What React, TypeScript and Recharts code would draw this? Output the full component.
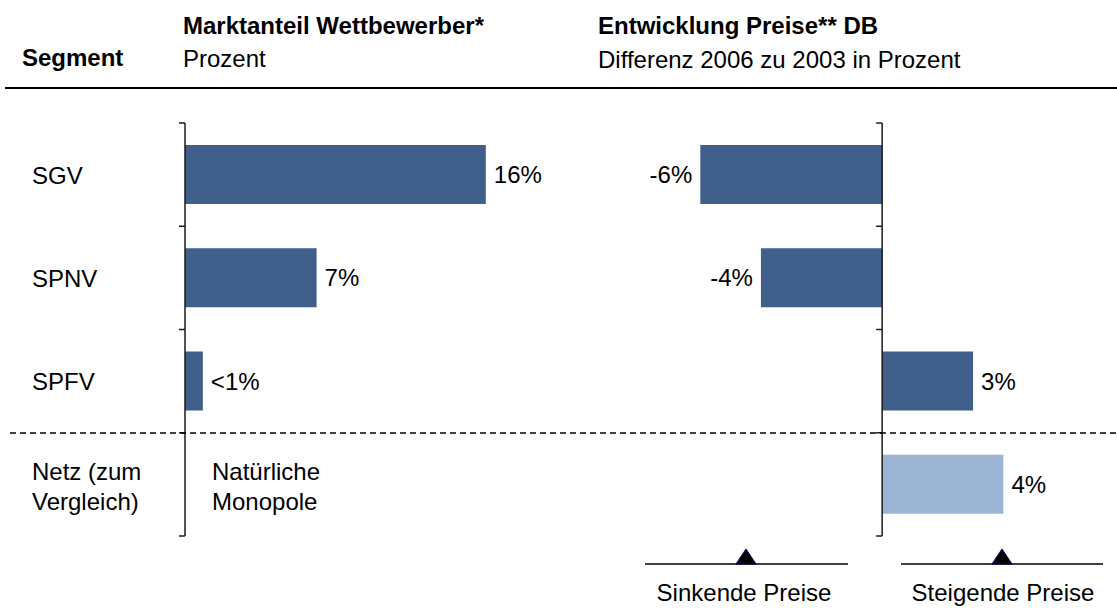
import React from "react";
import { BarChart, Bar, XAxis, YAxis, Cell, LabelList, ReferenceLine } from "recharts";

const segments = ["SGV", "SPNV", "SPFV", "Netz (zum\nVergleich)"];
const segmentNotes = ["", "", "", "Natürliche\nMonopole"];
const shareValues: (number | null)[] = [16, 7, 0.95, null];
const shareLabels = ["16%", "7%", "<1%", ""];
const priceValues = [-6, -4, 3, 4];
const priceLabels = ["-6%", "-4%", "3%", "4%"];
const priceIsComparison = [false, false, false, true];

const FONT = '"Liberation Sans", Arial, Helvetica, sans-serif';
const DARK = "#40608B";
const LIGHT = "#9BB4D4";

const shareData = segments.map((segment, i) => ({
  segment,
  share: shareValues[i],
  shareLabel: shareLabels[i],
}));
const priceData = segments.map((segment, i) => ({
  segment,
  price: priceValues[i],
  priceLabel: priceLabels[i],
}));

const CHART_H = 608;
const MARGIN_TOP = 123;
const MARGIN_BOTTOM = 72;

function AxisWithTicks(props: any) {
  const { x1, y1, y2 } = props;
  const top = Math.min(y1, y2);
  const bottom = Math.max(y1, y2);
  const band = (bottom - top) / segments.length;
  return (
    <g>
      <line x1={x1} x2={x1} y1={top} y2={bottom} stroke="#1a1a1a" strokeWidth={1.5} />
      {Array.from({ length: segments.length + 1 }, (_, i) => (
        <line
          key={i}
          x1={x1 - 6}
          x2={x1}
          y1={top + i * band}
          y2={top + i * band}
          stroke="#1a1a1a"
          strokeWidth={1.5}
        />
      ))}
    </g>
  );
}

function SegmentTick(props: any) {
  const { y, payload } = props;
  const idx = segments.indexOf(payload.value);
  const lines = String(payload.value).split("\n");
  const note = idx >= 0 ? segmentNotes[idx] : "";
  const noteLines = note ? note.split("\n") : [];
  const firstOffset = lines.length > 1 ? -4.5 : 9;
  return (
    <g>
      <text x={32} y={y + firstOffset} fontSize={24} fontFamily={FONT} fill="#000">
        {lines.map((l, i) => (
          <tspan key={i} x={32} dy={i === 0 ? 0 : 30}>
            {l}
          </tspan>
        ))}
      </text>
      {noteLines.length > 0 && (
        <text x={212} y={y + (noteLines.length > 1 ? -4.5 : 9)} fontSize={24} fontFamily={FONT} fill="#000">
          {noteLines.map((l, i) => (
            <tspan key={i} x={212} dy={i === 0 ? 0 : 30}>
              {l}
            </tspan>
          ))}
        </text>
      )}
    </g>
  );
}

export default function App() {
  return (
    <div
      style={{
        position: "absolute",
        left: 0,
        top: 0,
        width: 1117,
        height: 608,
        background: "#fff",
        fontFamily: FONT,
        overflow: "hidden",
      }}
    >
      <div style={{ position: "absolute", left: 0, top: 0 }}>
        <BarChart
          width={580}
          height={CHART_H}
          data={shareData}
          layout="vertical"
          margin={{ top: MARGIN_TOP, bottom: MARGIN_BOTTOM, left: 0, right: 19 }}
        >
          <XAxis type="number" domain={[0, 20]} hide />
          <YAxis
            type="category"
            dataKey="segment"
            width={185}
            axisLine={false}
            tickLine={false}
            interval={0}
            tick={(p: any) => <SegmentTick {...p} />}
          />
          <Bar dataKey="share" fill={DARK} barSize={59} isAnimationActive={false}>
            {shareData.map((_, i) => (
              <Cell key={i} fill={DARK} />
            ))}
            <LabelList
              dataKey="shareLabel"
              position="right"
              offset={8}
              fill="#000"
              fontSize={24}
              fontFamily={FONT}
            />
          </Bar>
          <ReferenceLine x={0} shape={(p: any) => <AxisWithTicks {...p} />} />
        </BarChart>
      </div>

      <div style={{ position: "absolute", left: 580, top: 0 }}>
        <BarChart
          width={537}
          height={CHART_H}
          data={priceData}
          layout="vertical"
          margin={{ top: MARGIN_TOP, bottom: MARGIN_BOTTOM, left: 90, right: 53 }}
        >
          <XAxis type="number" domain={[-7, 6]} hide />
          <YAxis type="category" dataKey="segment" hide />
          <Bar dataKey="price" barSize={59} isAnimationActive={false}>
            {priceData.map((_, i) => (
              <Cell key={i} fill={priceIsComparison[i] ? LIGHT : DARK} />
            ))}
            <LabelList
              dataKey="priceLabel"
              position="right"
              offset={8}
              fill="#000"
              fontSize={24}
              fontFamily={FONT}
            />
          </Bar>
          <ReferenceLine x={0} shape={(p: any) => <AxisWithTicks {...p} />} />
        </BarChart>
      </div>

      <svg
        width={1117}
        height={608}
        style={{ position: "absolute", left: 0, top: 0, pointerEvents: "none" }}
      >
        <g fontFamily={FONT} fontSize={24} fill="#000">
          <text x={22} y={66} fontWeight="bold">Segment</text>
          <text x={183} y={34} fontWeight="bold">Marktanteil Wettbewerber*</text>
          <text x={183} y={67}>Prozent</text>
          <text x={598} y={34} fontWeight="bold">Entwicklung Preise** DB</text>
          <text x={598} y={68}>Differenz 2006 zu 2003 in Prozent</text>
        </g>
        <line x1={5} x2={1117} y1={88} y2={88} stroke="#000" strokeWidth={2} />
        <line x1={10} x2={1117} y1={433} y2={433} stroke="#000" strokeWidth={1.5} strokeDasharray="6 4" />

        <line x1={645} x2={848} y1={564} y2={564} stroke="#000" strokeWidth={1.5} />
        <polygon points="736,564 756,564 746,549" fill="#000" stroke="#000060" strokeWidth={1} />
        <line x1={901} x2={1103} y1={564} y2={564} stroke="#000" strokeWidth={1.5} />
        <polygon points="992,564 1012,564 1002,549" fill="#000" stroke="#000060" strokeWidth={1} />
        <g fontFamily={FONT} fontSize={24} fill="#000" textAnchor="middle">
          <text x={744} y={601}>Sinkende Preise</text>
          <text x={1003} y={601}>Steigende Preise</text>
        </g>
      </svg>
    </div>
  );
}
